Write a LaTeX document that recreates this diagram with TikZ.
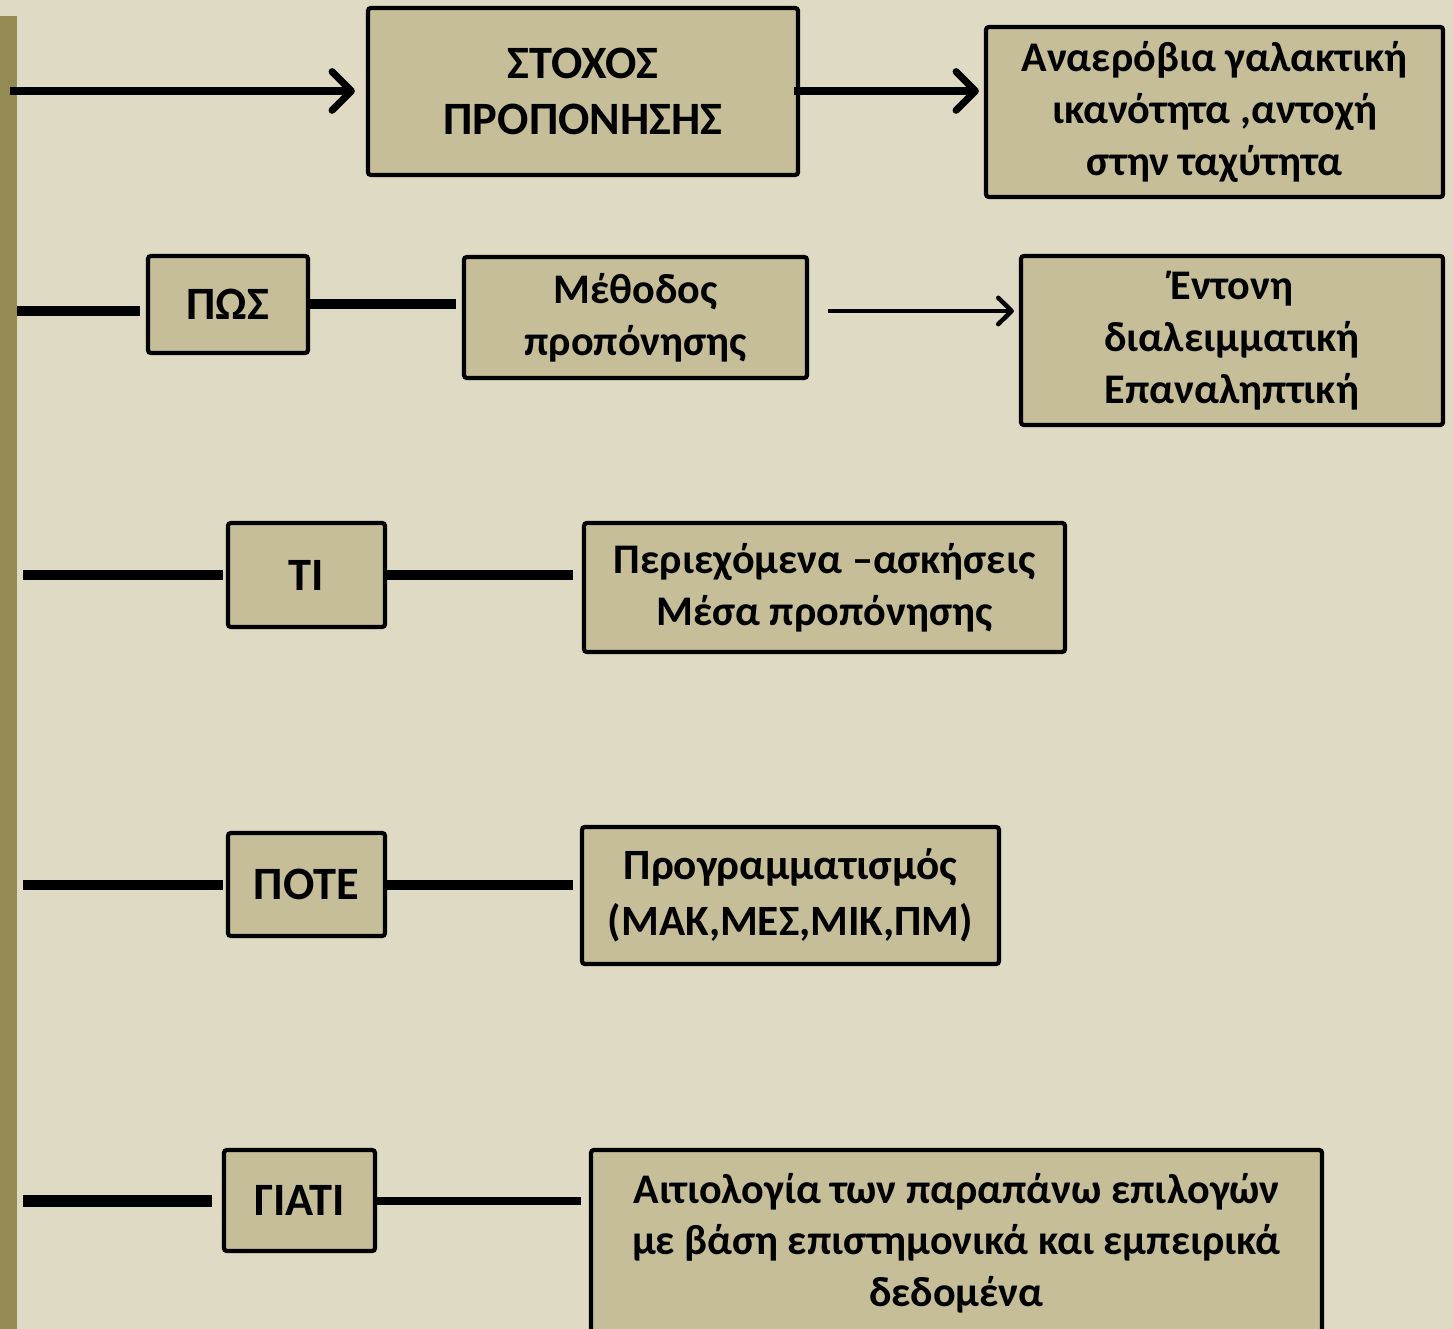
\documentclass[tikz,border=0pt]{standalone}
\usepackage{fontspec}
\setmainfont{Carlito}
\usetikzlibrary{arrows.meta,positioning,calc}

\definecolor{bgtan}{HTML}{DEDAC3}
\definecolor{boxtan}{HTML}{C5BE98}
\definecolor{barolive}{HTML}{948B54}

\tikzset{
	box/.style={draw=black, line width=1.2pt, rounded corners=0.8pt, fill=boxtan, align=center, inner sep=0pt, font=\bfseries\fontsize{12}{14.7}\selectfont},
	bigtext/.style={font=\bfseries\fontsize{13.2}{16.1}\selectfont},
	wire/.style={line width=2.8pt},
	thinwire/.style={line width=2pt},
	arr/.style={line width=2pt, -{Straight Barb[length=5.5pt,width=11pt,line cap=round,line join=round]}},
	thinarr/.style={line width=1.3pt, -{Straight Barb[length=3.8pt,width=7.5pt,line cap=round,line join=round]}},
}

\begin{document}
\begin{tikzpicture}
	% background and left bar
	\fill[bgtan] (0,0) rectangle (14.53,-13.29);
	\useasboundingbox (0,0) rectangle (14.53,-13.29);
	\fill[barolive] (0,-0.16) rectangle (0.17,-13.29);

	% boxes
	\node[box, bigtext, minimum width=4.30cm, minimum height=1.67cm] (goal) at (5.83,-0.915) {ΣΤΟΧΟΣ\\ΠΡΟΠΟΝΗΣΗΣ};
	\node[box, minimum width=4.57cm, minimum height=1.70cm] (anaer) at (12.145,-1.12) {Αναερόβια γαλακτική\\ικανότητα ,αντοχή\\στην ταχύτητα};
	\node[box, bigtext, minimum width=1.60cm, minimum height=0.97cm] (pos) at (2.28,-3.045) {ΠΩΣ};
	\node[box, minimum width=3.43cm, minimum height=1.21cm] (meth) at (6.355,-3.175) {Μέθοδος\\προπόνησης};
	\node[box, minimum width=4.22cm, minimum height=1.69cm] (inten) at (12.32,-3.405) {Έντονη\\διαλειμματική\\Επαναληπτική};
	\node[box, bigtext, minimum width=1.57cm, minimum height=1.04cm] (ti) at (3.065,-5.75) {ΤΙ};
	\node[box, minimum width=4.81cm, minimum height=1.29cm] (cont) at (8.245,-5.875) {Περιεχόμενα –ασκήσεις\\Μέσα προπόνησης};
	\node[box, bigtext, minimum width=1.57cm, minimum height=1.03cm] (pote) at (3.065,-8.845) {ΠΟΤΕ};
	\node[box, font=\bfseries\fontsize{12.3}{15.8}\selectfont, minimum width=4.17cm, minimum height=1.37cm] (prog) at (7.905,-8.955) {Προγραμματισμός\\(ΜΑΚ,ΜΕΣ,ΜΙΚ,ΠΜ)};
	\node[box, bigtext, minimum width=1.51cm, minimum height=1.01cm] (giati) at (2.995,-12.005) {ΓΙΑΤΙ};
	\node[box, minimum width=7.31cm, minimum height=1.95cm] (reas) at (9.565,-12.475) {};
	\node[font=\bfseries\fontsize{12}{14.7}\selectfont, align=center] (reastxt) at (9.565,-12.43) {Αιτιολογία των παραπάνω επιλογών\\με βάση επιστημονικά και εμπειρικά\\δεδομένα};

	% free ends of the lines
	\coordinate (s0) at (0.10,-0.91);
	\coordinate (s1) at (0.17,-3.11);
	\coordinate (s2) at (0.23,-5.75);
	\coordinate (s3) at (0.23,-8.85);
	\coordinate (s4) at (0.23,-12.01);

	% connectors
	\draw[arr, shorten >=0.11cm] (s0) -- (goal.west |- s0);
	\draw[arr, shorten <=-0.06cm, shorten >=0.05cm] (goal.east |- s0) -- (anaer.west |- s0);
	\draw[wire, shorten >=0.06cm] (s1) -- (pos.west |- s1);
	\draw[wire, shorten >=0.06cm] (pos.east |- 0,-3.04) -- (meth.west |- 0,-3.04);
	\draw[thinarr, shorten <=0.19cm, shorten >=0.05cm] (meth.east |- s1) -- (inten.west |- s1);
	\draw[wire, shorten >=0.03cm] (s2) -- (ti.west |- s2);
	\draw[wire, shorten >=0.09cm] (ti.east |- s2) -- (cont.west |- s2);
	\draw[wire, shorten >=0.03cm] (s3) -- (pote.west |- s3);
	\draw[wire, shorten >=0.07cm] (pote.east |- s3) -- (prog.west |- s3);
	\draw[line width=3.2pt, shorten >=0.10cm] (s4) -- (giati.west |- s4);
	\draw[thinwire, shorten >=0.08cm] (giati.east |- s4) -- (reas.west |- s4);
\end{tikzpicture}
\end{document}
